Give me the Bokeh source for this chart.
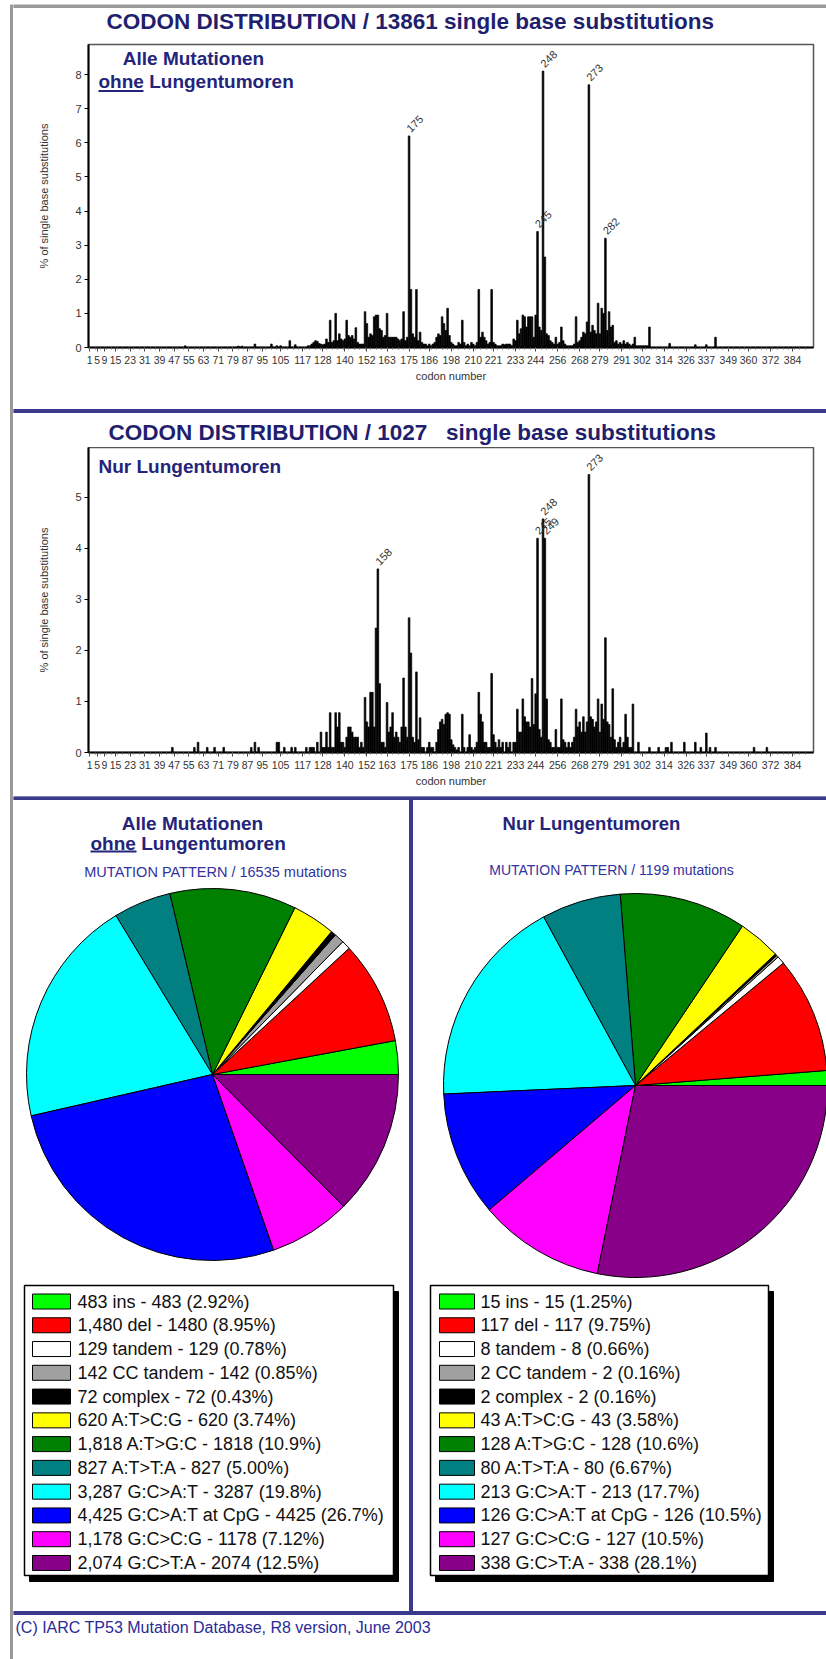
import math
from bokeh.plotting import figure
from bokeh.models import Range1d, FixedTicker, ColumnDataSource, Label
from bokeh.layouts import row, column
from bokeh.embed import file_html
from bokeh.resources import INLINE
from bokeh.core.properties import value
from bokeh.transform import cumsum

FONT = "Liberation Sans"
TITLE_C = "#1f1f6e"
SUB_C = "#24247a"
PAT_C = "#3232a0"
RULE_C = "#3a3a8c"
GREY_C = "#9a9a9a"

# ---------------- data ----------------
x_tick_codons = [1, 5, 9, 15, 23, 31, 39, 47, 55, 63, 71, 79, 87, 95, 105, 117, 128, 140,
                 152, 163, 175, 186, 198, 210, 221, 233, 244, 256, 268, 279, 291, 302, 314,
                 326, 337, 349, 360, 372, 384]
minor_codons = list(range(1, 394, 3))

# chart 1 : all mutations without lung tumours (% of single base substitutions)
codons_all = [53, 82, 84, 91, 100, 103, 105, 110, 113] + list(range(120, 307)) + [317, 331, 337, 342]
pct_all = [0.05, 0.04, 0.04, 0.10, 0.10, 0.05, 0.05, 0.20, 0.08,
           0.05, 0.05, 0.10, 0.15, 0.20, 0.18, 0.12, 0.10, 0.08, 0.10,
           0.25, 0.15, 0.80, 0.15, 0.20, 1.00, 0.20, 0.40, 0.25, 0.20,
           0.25, 0.80, 0.35, 0.30, 0.35, 0.25, 0.58, 0.15, 0.10, 0.10,
           0.10, 1.05, 0.70, 0.30, 0.40, 0.35, 0.90, 0.95, 0.95, 0.55,
           0.50, 0.30, 0.35, 1.00, 0.30, 0.30, 0.30, 0.30, 0.30, 0.25,
           0.20, 0.25, 1.05, 0.20, 0.30, 6.20, 1.70, 0.40, 0.30, 1.70,
           0.20, 0.45, 0.15, 0.10, 0.10, 0.05, 0.10, 0.05, 0.10, 0.15,
           0.30, 0.40, 0.35, 0.90, 0.70, 0.50, 1.15, 0.35, 0.15, 0.10,
           0.05, 0.05, 0.15, 0.10, 0.80, 0.15, 0.05, 0.10, 0.05, 0.15,
           0.10, 0.05, 0.15, 1.70, 0.30, 0.45, 0.30, 0.20, 0.10, 0.15,
           1.70, 0.15, 0.10, 0.05, 0.05, 0.05, 0.10, 0.08, 0.10, 0.10,
           0.10, 0.05, 0.25, 0.20, 0.80, 0.40, 0.55, 0.95, 0.90, 0.60,
           0.90, 0.90, 0.90, 0.30, 0.95, 3.40, 0.60, 0.50, 8.10, 2.65,
           0.40, 0.35, 0.20, 0.15, 0.10, 0.30, 0.10, 0.15, 0.60, 0.20,
           0.10, 0.05, 0.05, 0.05, 0.05, 0.10, 0.90, 0.15, 0.20, 0.30,
           0.45, 0.40, 0.75, 7.70, 0.45, 0.65, 0.50, 0.40, 1.30, 0.40,
           1.15, 1.00, 3.20, 0.50, 1.05, 0.60, 0.65, 0.15, 0.20, 0.10,
           0.15, 0.10, 0.20, 0.10, 0.15, 0.10, 0.05, 0.10, 0.30, 0.05,
           0.05, 0.05, 0.05, 0.05, 0.05, 0.05, 0.60,
           0.12, 0.08, 0.08, 0.30]
peaks_all = [175, 245, 248, 273, 282]

# chart 2 : lung tumours only
codons_lung = ([46, 58, 60, 65, 69, 74, 89, 91, 93, 103, 104, 107, 111, 113, 119]
               + list(range(121, 298))
               + [300, 306, 311, 315, 316, 318, 325, 331, 334, 337, 339, 342, 363, 370])
pct_lung = [0.10, 0.10, 0.20, 0.10, 0.10, 0.10, 0.10, 0.20, 0.10, 0.20, 0.20, 0.10, 0.10, 0.10, 0.10,
            0.10, 0.10, 0.10, 0.00, 0.20, 0.00, 0.40, 0.10, 0.10, 0.40,
            0.10, 0.78, 0.10, 0.10, 0.78, 0.50, 0.78, 0.20, 0.20, 0.10,
            0.30, 0.50, 0.50, 0.40, 0.30, 0.30, 0.30, 0.10, 0.20, 0.10,
            1.08, 0.60, 0.50, 1.18, 1.18, 0.50, 2.44, 3.60, 1.35, 0.20,
            0.20, 0.10, 0.98, 0.40, 0.50, 0.78, 0.30, 0.40, 0.30, 0.20,
            0.50, 1.46, 0.50, 0.30, 2.64, 1.95, 0.30, 0.20, 1.58, 0.25,
            0.68, 0.10, 0.10, 0.00, 0.10, 0.20, 0.10, 0.10, 0.00, 0.20,
            0.45, 0.60, 0.65, 0.55, 0.75, 0.78, 0.75, 0.25, 0.15, 0.10,
            0.05, 0.10, 0.00, 0.75, 0.10, 0.00, 0.10, 0.35, 0.10, 0.05,
            0.10, 0.20, 1.18, 0.75, 0.60, 0.20, 0.20, 0.10, 0.10, 1.55,
            0.35, 0.20, 0.10, 0.25, 0.10, 0.20, 0.00, 0.20, 0.10, 0.20,
            0.00, 0.20, 0.20, 0.85, 0.40, 0.40, 1.05, 0.70, 0.60, 0.60,
            0.50, 1.45, 0.55, 1.15, 4.20, 0.45, 0.30, 4.58, 4.20, 1.05,
            0.25, 0.20, 0.10, 0.10, 0.45, 0.10, 0.10, 1.05, 0.25, 0.20,
            0.10, 0.20, 0.10, 0.20, 0.30, 0.85, 0.50, 0.60, 0.40, 0.70,
            0.40, 0.60, 5.45, 0.70, 0.65, 0.50, 0.60, 1.05, 0.40, 0.95,
            0.65, 2.25, 0.60, 0.55, 0.30, 1.25, 0.25, 0.10, 0.20, 0.30,
            0.10, 0.20, 0.75, 0.30, 0.10, 0.10, 0.95,
            0.20, 0.10, 0.10, 0.10, 0.10, 0.20, 0.20, 0.20, 0.10, 0.38, 0.10, 0.10, 0.10, 0.10]
peaks_lung = [158, 245, 248, 249, 273]

# mutation pattern
mut_types = ["ins", "del", "tandem", "CC tandem", "complex", "A:T>C:G", "A:T>G:C",
             "A:T>T:A", "G:C>A:T", "G:C>A:T at CpG", "G:C>C:G", "G:C>T:A"]
mut_colors = ["#00ff00", "#ff0000", "#ffffff", "#a0a0a0", "#000000", "#ffff00",
              "#008000", "#008080", "#00ffff", "#0000ff", "#ff00ff", "#880088"]
counts_all = [483, 1480, 129, 142, 72, 620, 1818, 827, 3287, 4425, 1178, 2074]
pcts_all_txt = ["2.92", "8.95", "0.78", "0.85", "0.43", "3.74", "10.9", "5.00", "19.8", "26.7", "7.12", "12.5"]
counts_lung = [15, 117, 8, 2, 2, 43, 128, 80, 213, 126, 127, 338]
pcts_lung_txt = ["1.25", "9.75", "0.66", "0.16", "0.16", "3.58", "10.6", "6.67", "17.7", "10.5", "10.5", "28.1"]

# ---------------- helpers ----------------
XR = (0.3, 395.4)
FRAME_L, FRAME_R = 88, 813


def blank(w, h, xr, yr, bg="white"):
    p = figure(width=w, height=h, x_range=Range1d(*xr), y_range=Range1d(*yr), min_border=0,
               x_axis_location=None, y_axis_location=None, toolbar_location=None,
               output_backend="svg", title=None, frame_align=False)
    p.outline_line_color = None
    p.background_fill_color = bg
    p.border_fill_color = bg
    p.grid.visible = False
    return p


def page_label(p, x, y, text, size, color, bold=False, align="center"):
    p.add_layout(Label(x=x, y=-y, text=text, text_align=align, text_baseline="middle",
                       text_font=FONT, text_font_size=size,
                       text_font_style="bold" if bold else "normal", text_color=color))


def codon_chart(codons, pcts, peaks, height, top, bottom, ymax, yticks, frame_bottom_page):
    p = figure(width=813, height=height, x_range=Range1d(*XR), y_range=Range1d(0, ymax),
               min_border_left=75, min_border_right=13, min_border_top=top, min_border_bottom=bottom,
               toolbar_location=None, output_backend="svg", title=None, frame_align=False)
    p.background_fill_color = "white"
    p.border_fill_color = "white"
    p.outline_line_color = "#555555"
    p.outline_line_width = 1.5
    p.grid.visible = False

    p.vbar(x=codons, top=pcts, width=0.9, fill_color="black", line_color="black", line_width=0.7)

    xa = p.xaxis[0]
    xa.ticker = FixedTicker(ticks=x_tick_codons, minor_ticks=minor_codons)
    xa.axis_label = "codon number"
    xa.axis_label_text_font = FONT
    xa.axis_label_text_font_size = "11px"
    xa.axis_label_text_font_style = "normal"
    xa.axis_label_text_color = "#333333"
    xa.axis_label_standoff = 3
    xa.major_label_text_font = FONT
    xa.major_label_text_font_size = "10.5px"
    xa.major_label_text_color = "#333333"
    xa.major_label_standoff = 4
    xa.major_tick_out = 4
    xa.major_tick_in = 0
    xa.minor_tick_out = 2
    xa.minor_tick_in = 0
    xa.axis_line_width = 2
    xa.axis_line_color = "black"
    xa.major_tick_line_color = "#444444"
    xa.minor_tick_line_color = "#666666"

    ya = p.yaxis[0]
    ya.ticker = FixedTicker(ticks=yticks)
    ya.axis_label = "% of single base substitutions"
    ya.axis_label_text_font = FONT
    ya.axis_label_text_font_size = "11px"
    ya.axis_label_text_font_style = "normal"
    ya.axis_label_text_color = "#333333"
    ya.axis_label_standoff = 22
    ya.major_label_text_font = FONT
    ya.major_label_text_font_size = "11px"
    ya.major_label_text_color = "#333333"
    ya.major_label_standoff = 3
    ya.major_tick_out = 4
    ya.major_tick_in = 0
    ya.minor_tick_out = 0
    ya.minor_tick_in = 0
    ya.axis_line_width = 2
    ya.axis_line_color = "black"

    lookup = dict(zip(codons, pcts))
    p.text(x=peaks, y=[lookup[c] for c in peaks], text=[str(c) for c in peaks],
           angle=math.pi / 4, x_offset=2, y_offset=-3, text_align="left", text_baseline="bottom",
           text_font=value(FONT), text_font_size="11px", text_color="#333333")

    frame_h = height - top - bottom

    def cx(px):
        return XR[0] + (px - FRAME_L) * (XR[1] - XR[0]) / (FRAME_R - FRAME_L)

    def cy(py):
        return (frame_bottom_page - py) * ymax / frame_h

    return p, cx, cy


# ---------------- header (page y 0..40) ----------------
head = blank(813, 40, (13, 826), (-40, 0))
head.quad(left=13, right=826, top=-4.5, bottom=-7, color=GREY_C)
page_label(head, 106, 21, "CODON DISTRIBUTION / 13861 single base substitutions", "22.5px", TITLE_C,
           bold=True, align="left")

# ---------------- chart 1 (page y 40..400) ----------------
p1, cx1, cy1 = codon_chart(codons_all, pct_all, peaks_all, 360, 4, 53, 8.88, list(range(0, 9)), 347)
p1.add_layout(Label(x=cx1(193), y=cy1(58), text="Alle Mutationen", text_align="center",
                    text_baseline="middle", text_font=FONT, text_font_size="19px",
                    text_font_style="bold", text_color=SUB_C))
p1.add_layout(Label(x=cx1(98), y=cy1(81), text="ohne Lungentumoren", text_align="left",
                    text_baseline="middle", text_font=FONT, text_font_size="19px",
                    text_font_style="bold", text_color=SUB_C))
p1.line(x=[cx1(98), cx1(143)], y=[cy1(90.5), cy1(90.5)], line_color=SUB_C, line_width=1.8)

# ---------------- middle strip (page y 400..447) ----------------
mid = blank(813, 47, (13, 826), (-447, -400))
mid.quad(left=13, right=826, top=-409, bottom=-412, color=RULE_C)
page_label(mid, 108, 432, "CODON DISTRIBUTION / 1027 \u00a0 single base substitutions", "22.5px",
           TITLE_C, bold=True, align="left")

# ---------------- chart 2 (page y 447..796) ----------------
p2, cx2, cy2 = codon_chart(codons_lung, pct_lung, peaks_lung, 349, 0, 44, 5.98, list(range(0, 6)), 752)
p2.add_layout(Label(x=cx2(98), y=cy2(466), text="Nur Lungentumoren", text_align="left",
                    text_baseline="middle", text_font=FONT, text_font_size="19px",
                    text_font_style="bold", text_color=SUB_C))

# ---------------- pies, legends, footer (page y 796..1659) ----------------
pp = blank(813, 863, (13, 826), (-1659, -796))
pp.quad(left=13, right=826, top=-796, bottom=-799, color=RULE_C)


def pie_panel(counts, pcts_txt, cx, cy, r, box, sw_x, sw_w, txt_x):
    total = sum(counts)
    src = ColumnDataSource(dict(angle=[c / total * 2 * math.pi for c in counts], color=mut_colors))
    pp.wedge(x=cx, y=-cy, radius=r, start_angle=cumsum("angle", include_zero=True),
             end_angle=cumsum("angle"), fill_color="color", line_color="black", line_width=1,
             source=src)
    l, t, rr, b = box
    pp.quad(left=l + 5, right=rr + 5, top=-(t + 6), bottom=-(b + 6), color="black")
    pp.quad(left=l, right=rr, top=-t, bottom=-b, fill_color="white", line_color="black", line_width=1.5)
    ys = [-(1301 + i * 23.77) for i in range(len(counts))]
    pp.rect(x=sw_x + sw_w / 2, y=ys, width=sw_w, height=15, fill_color=mut_colors,
            line_color="black", line_width=1)
    labels = [f"{c:,} {n} - {c} ({pc}%)" for c, n, pc in zip(counts, mut_types, pcts_txt)]
    pp.text(x=txt_x, y=ys, text=labels, text_align="left", text_baseline="middle",
            text_font=value(FONT), text_font_size="18px", text_color="#111111")


pie_panel(counts_all, pcts_all_txt, 212, 1074, 186, (24, 1285, 393, 1575), 32, 38, 77)
pie_panel(counts_lung, pcts_lung_txt, 635, 1085, 192, (430, 1285, 768, 1575), 439, 35, 480)

pp.quad(left=409, right=412, top=-799, bottom=-1611, color=RULE_C)
pp.quad(left=13, right=826, top=-1611, bottom=-1614, color=RULE_C)

page_label(pp, 192, 822.5, "Alle Mutationen", "19px", SUB_C, bold=True)
page_label(pp, 90, 843, "ohne Lungentumoren", "19px", SUB_C, bold=True, align="left")
pp.line(x=[90, 136], y=[-851, -851], line_color=SUB_C, line_width=1.8)
page_label(pp, 215, 871, "MUTATION PATTERN / 16535 mutations", "14.5px", PAT_C)
page_label(pp, 591, 823, "Nur Lungentumoren", "18.5px", SUB_C, bold=True)
page_label(pp, 611, 869, "MUTATION PATTERN / 1199 mutations", "14px", PAT_C)
page_label(pp, 15, 1627, "(C) IARC TP53 Mutation Database, R8 version, June 2003", "16px", "#2a2a96",
           align="left")

# ---------------- left frame strip ----------------
left_strip = blank(13, 1659, (0, 13), (-1659, 0))
left_strip.quad(left=10, right=12.5, top=-4.5, bottom=-1659, color=GREY_C)

layout = row(left_strip, column(head, p1, mid, p2, pp, spacing=0), spacing=0)

open("out.html", "w").write(file_html(layout, INLINE))
